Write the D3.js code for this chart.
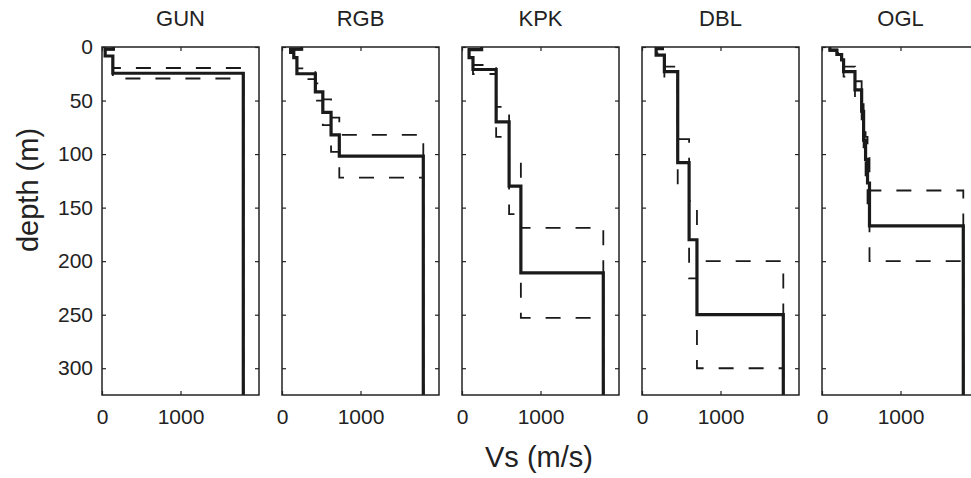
<!DOCTYPE html>
<html>
<head>
<meta charset="utf-8">
<script src="https://cdn.jsdelivr.net/npm/d3@7"></script>
<style>
  body { margin: 0; background: #fff; }
  text { font-family: Arial, "Liberation Sans", sans-serif; fill: #222; }
</style>
</head>
<body>
<div id="chart"></div>
<script>
// sites, one panel each
var sites = ['GUN', 'RGB', 'KPK', 'DBL', 'OGL'];

// layer tops (m) and Vs (m/s) of the best profile (solid)
// plus the shallow and deep bound profiles (dashed)
var gunTop = [0, 2, 8.4, 24.5];
var gunTopLo = [0, 1.6, 6.7, 19.6];
var gunTopHi = [0, 2.4, 10, 29.4];
var gunVs = [145, 40, 138, 1800];

var rgbTop = [0, 2, 5, 10, 25, 42, 61, 82, 102];
var rgbTopLo = [0, 1.6, 4, 8, 20, 34, 49, 66, 82];
var rgbTopHi = [0, 2.4, 6, 12, 30, 50, 73, 98, 122];
var rgbVs = [250, 110, 150, 190, 425, 520, 625, 730, 1800];

var kpkTop = [0, 2.5, 10, 21, 70, 130, 211];
var kpkTopLo = [0, 2, 8, 16.8, 56, 104, 169];
var kpkTopHi = [0, 3, 12, 25.2, 84, 156, 253];
var kpkVs = [250, 90, 140, 435, 600, 750, 1800];

var dblTop = [0, 1.5, 7.5, 23, 108, 180, 250];
var dblTopLo = [0, 1.2, 6, 18.4, 86, 144, 200];
var dblTopHi = [0, 1.8, 9, 27.6, 130, 216, 300];
var dblVs = [260, 180, 285, 455, 600, 700, 1800];

var oglTop = [0, 3, 7, 12, 23, 40, 60, 87, 105, 127, 167];
var oglTopLo = [0, 2.4, 5.6, 9.6, 18.4, 32, 48, 70, 84, 102, 134];
var oglTopHi = [0, 3.6, 8.4, 14.4, 27.6, 48, 72, 104, 126, 152, 200];
var oglVs = [100, 190, 250, 275, 420, 505, 530, 555, 580, 605, 1800];

var profiles = [
    {vs: gunVs, top: gunTop, lo: gunTopLo, hi: gunTopHi},
    {vs: rgbVs, top: rgbTop, lo: rgbTopLo, hi: rgbTopHi},
    {vs: kpkVs, top: kpkTop, lo: kpkTopLo, hi: kpkTopHi},
    {vs: dblVs, top: dblTop, lo: dblTopLo, hi: dblTopHi},
    {vs: oglVs, top: oglTop, lo: oglTopLo, hi: oglTopHi}
];

var depthTicks = [0, 50, 100, 150, 200, 250, 300];
var vsTicks = [0, 1000];
var maxDepth = 325;

// svg setup
var svgWidth = 971;
var svgHeight = 478;
var panelWidth = 157;
var panelStep = 180;
var firstLeft = 102;

var svg = d3.select('#chart')
    .append('svg')
    .attr('width', svgWidth)
    .attr('height', svgHeight);

var yScale = d3.scaleLinear()
    .domain([0, maxDepth])
    .range([47, 395]);

// turn layer tops + velocities into step points
function steps(vs, top) {
    var pts = [];
    vs.forEach(function(v, i) {
        var bottom = i < top.length - 1 ? top[i + 1] : maxDepth;
        pts.push([v, top[i]]);
        pts.push([v, bottom]);
    });
    return pts;
}

sites.forEach(function(site, i) {
    var left = firstLeft + i * panelStep;
    var xScale = d3.scaleLinear()
        .domain([0, 2000])
        .range([left, left + panelWidth]);

    var g = svg.append('g');

    var line = d3.line()
        .x(function(d) { return xScale(d[0]); })
        .y(function(d) { return yScale(d[1]); });

    var p = profiles[i];

    // dashed bounds
    [p.lo, p.hi].forEach(function(t) {
        g.append('path')
            .attr('d', line(steps(p.vs, t)))
            .attr('fill', 'none')
            .attr('stroke', '#1a1a1a')
            .attr('stroke-width', 1.8)
            .attr('stroke-dasharray', '15,15');
    });

    // best profile
    g.append('path')
        .attr('d', line(steps(p.vs, p.top)))
        .attr('fill', 'none')
        .attr('stroke', '#1a1a1a')
        .attr('stroke-width', 3.2);

    // axes, ticks pointing inwards
    var bottomAxis = d3.axisBottom(xScale).tickValues(vsTicks)
        .tickSizeInner(-4).tickSizeOuter(0).tickPadding(14)
        .tickFormat(d3.format('d'));
    var topAxis = d3.axisTop(xScale).tickValues(vsTicks)
        .tickSizeInner(-4).tickSizeOuter(0).tickFormat('');
    var leftAxis = d3.axisLeft(yScale).tickValues(depthTicks)
        .tickSizeInner(-4).tickSizeOuter(0).tickPadding(9)
        .tickFormat(i === 0 ? d3.format('d') : '');
    var rightAxis = d3.axisRight(yScale).tickValues(depthTicks)
        .tickSizeInner(-4).tickSizeOuter(0).tickFormat('');

    var ax = [
        g.append('g').attr('transform', 'translate(0,' + yScale(maxDepth) + ')').call(bottomAxis),
        g.append('g').attr('transform', 'translate(0,' + yScale(0) + ')').call(topAxis),
        g.append('g').attr('transform', 'translate(' + left + ',0)').call(leftAxis),
        g.append('g').attr('transform', 'translate(' + (left + panelWidth) + ',0)').call(rightAxis)
    ];
    ax.forEach(function(a) {
        a.select('.domain').remove();
        a.selectAll('line').attr('stroke', '#222').attr('stroke-width', 1.2);
        a.selectAll('text')
            .style('font-size', '21px')
            .style('font-family', 'Arial, "Liberation Sans", sans-serif')
            .attr('fill', '#222');
    });

    // frame
    g.append('rect')
        .attr('x', left)
        .attr('y', yScale(0))
        .attr('width', panelWidth)
        .attr('height', yScale(maxDepth) - yScale(0))
        .attr('fill', 'none')
        .attr('stroke', '#222')
        .attr('stroke-width', 1.5);

    // title
    svg.append('text')
        .attr('x', left + panelWidth / 2)
        .attr('y', 26)
        .attr('text-anchor', 'middle')
        .style('font-size', '22px')
        .text(site);
});

// axis labels
svg.append('text')
    .attr('transform', 'translate(38,190) rotate(-90)')
    .attr('text-anchor', 'middle')
    .style('font-size', '29px')
    .text('depth (m)');

svg.append('text')
    .attr('x', 539)
    .attr('y', 467)
    .attr('text-anchor', 'middle')
    .style('font-size', '29px')
    .text('Vs (m/s)');
</script>
</body>
</html>
